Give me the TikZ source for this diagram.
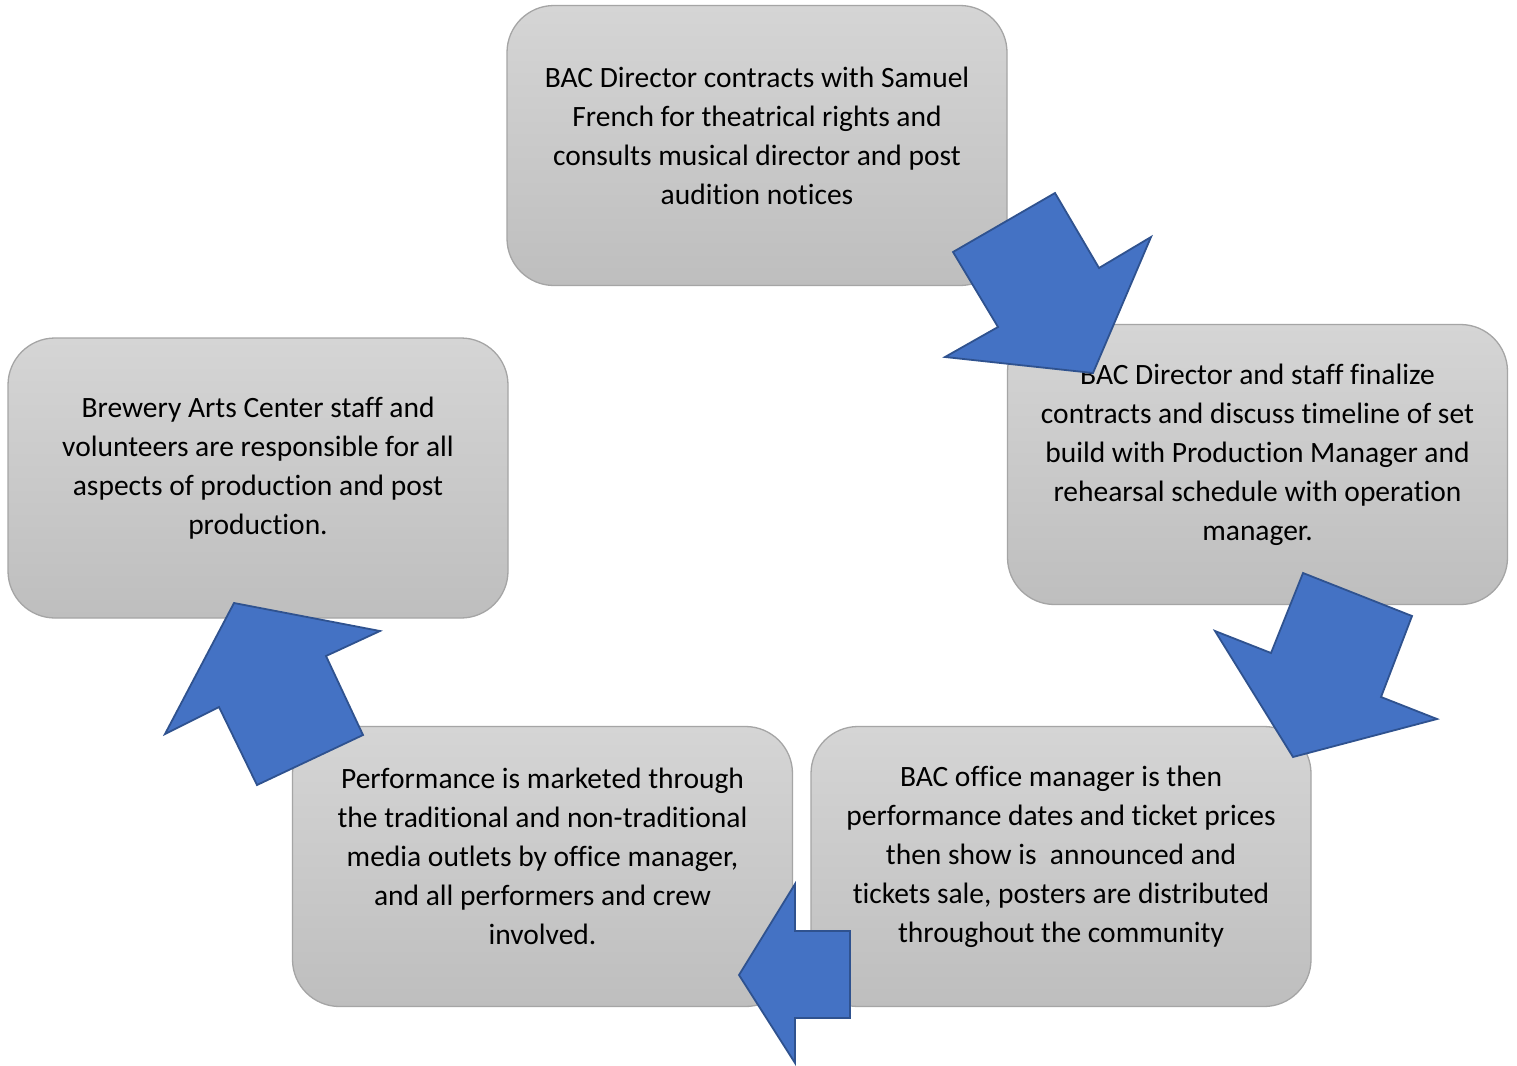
\documentclass[tikz,border=0pt]{standalone}
\usepackage{fontspec}
\setmainfont{Carlito}[Ligatures=NoCommon]
\definecolor{boxtop}{RGB}{213,213,213}
\definecolor{boxbot}{RGB}{190,190,190}
\definecolor{boxline}{RGB}{165,165,165}
\definecolor{arrfill}{RGB}{68,114,196}
\definecolor{arrline}{RGB}{47,82,143}
\begin{document}
\begin{tikzpicture}[x=1pt,y=-1pt,
  stagebox/.style={draw=boxline, line width=1.3pt, rounded corners=47pt,
    top color=boxtop, bottom color=boxbot, minimum width=500pt, minimum height=280pt,
    inner sep=0pt},
  stagetext/.style={align=center, font=\fontsize{29.5}{39}\selectfont, inner sep=0pt, text=black},
  blockarrow/.style={fill=arrfill, draw=arrline, line width=1.8pt, line join=miter}]
\useasboundingbox (0,0) rectangle (1517,1065);
\fill[white] (0,0) rectangle (1517,1065);

\node[stagebox] (b1) at (757,145.5) {};
\node[stagebox] (b2) at (1257.5,464.5) {};
\node[stagebox] (b3) at (1061,866.5) {};
\node[stagebox] (b4) at (542.5,866.5) {};
\node[stagebox] (b5) at (258,478) {};

\node[stagetext] (t1) at ([yshift=10pt]b1.center) {BAC Director contracts with Samuel\\French for theatrical rights and\\consults musical director and post\\audition notices};
\node[stagetext] (t2) at ([yshift=10pt]b2.center) {BAC Director and staff finalize\\contracts and discuss timeline of set\\build with Production Manager and\\rehearsal schedule with operation\\manager.};
\node[stagetext] (t3) at ([yshift=10pt]b3.center) {BAC office manager is then\\performance dates and ticket prices\\then show is \ announced and\\tickets sale, posters are distributed\\throughout the community};
\node[stagetext] (t4) at ([yshift=10pt]b4.center) {Performance is marketed through\\the traditional and non-traditional\\media outlets by office manager,\\and all performers and crew\\involved.};
\node[stagetext] (t5) at ([yshift=10pt]b5.center) {Brewery Arts Center staff and\\volunteers are responsible for all\\aspects of production and post\\production.};

% block arrows
\draw[blockarrow] (1055,193) -- (1099,268) -- (1151,237) -- (1093,373) -- (945,357) -- (998,327) -- (953,252) -- cycle;
\draw[blockarrow] (1303,573) -- (1412,616) -- (1381,697) -- (1437,719) -- (1293,757) -- (1215,631) -- (1271,653) -- cycle;
\draw[blockarrow] (739,975) -- (795,884) -- (795,931) -- (850,931) -- (850,1018) -- (795,1018) -- (795,1063) -- cycle;
\draw[blockarrow] (234,603) -- (380,631) -- (326,656) -- (363,735) -- (257,785) -- (219,707) -- (165,734) -- cycle;
\end{tikzpicture}
\end{document}
